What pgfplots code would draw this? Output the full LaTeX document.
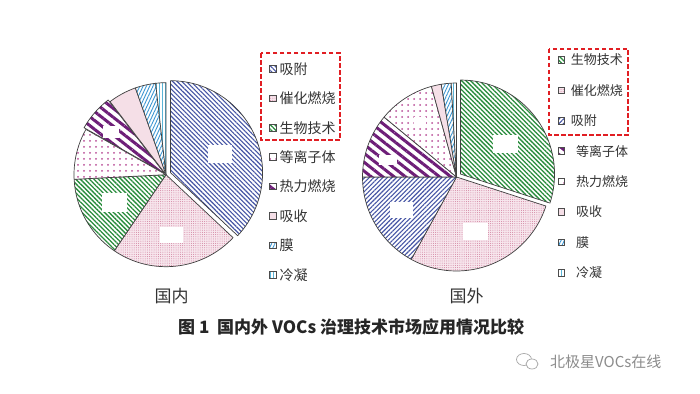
\documentclass[border=0pt]{standalone}
\usepackage{pgfplots}
\pgfplotsset{compat=1.18}
\usepackage{pgfplotstable}
\usepackage{fontspec}
\setmainfont{Noto Sans CJK SC}
\usetikzlibrary{patterns.meta}

\definecolor{adsblue}{RGB}{70,85,165}
\definecolor{biogreen}{RGB}{40,140,60}
\definecolor{thermpurple}{RGB}{110,30,120}
\definecolor{catpink}{RGB}{210,130,160}
\definecolor{catfill}{RGB}{247,230,237}
\definecolor{plasmapink}{RGB}{185,75,150}
\definecolor{absfill}{RGB}{249,232,238}
\definecolor{membblue}{RGB}{60,150,210}
\definecolor{condblue}{RGB}{90,180,215}
\definecolor{boxred}{RGB}{225,30,35}

\tikzset{
 slice/.style={draw=black!75, line width=0.7pt, line join=round},
 adsL/.style={preaction={fill=white}, pattern={Lines[angle=-45,distance=3.2pt,line width=1.1pt]}, pattern color=adsblue},
 adsR/.style={preaction={fill=white}, pattern={Lines[angle=45,distance=3.2pt,line width=1.1pt]}, pattern color=adsblue},
 bio/.style={preaction={fill=white}, pattern={Lines[angle=-45,distance=3.2pt,line width=1.3pt]}, pattern color=biogreen},
 cat/.style={preaction={fill=catfill}, pattern={Dots[distance=2.2pt,radius=0.5pt]}, pattern color=catpink},
 plasma/.style={preaction={fill=white}, pattern={Dots[distance=6pt,radius=1pt]}, pattern color=plasmapink},
 therm/.style={preaction={fill=white}, pattern={Lines[angle=-38,distance=7pt,line width=3pt]}, pattern color=thermpurple},
 absorb/.style={preaction={fill=absfill}, pattern={Dots[distance=2pt,radius=0.4pt]}, pattern color=catpink},
 memb/.style={preaction={fill=white}, pattern={Lines[angle=65,distance=3pt,line width=0.9pt]}, pattern color=membblue},
 cond/.style={preaction={fill=white}, pattern={Lines[angle=90,distance=3pt,line width=0.6pt]}, pattern color=condblue},
 legL/.style={anchor=west, inner sep=0pt, text=black!80, font=\fontsize{14}{16}\selectfont},
 legR/.style={anchor=west, inner sep=0pt, text=black!80, font=\fontsize{13}{15}\selectfont},
 icon/.style={draw=black!70, line width=0.8pt},
 blank/.style={fill=white, draw=none, inner sep=0pt},
}

% name value style explode(px)
\pgfplotstableread{
name value sty ex
吸附 37 adsL 5
催化燃烧 22.5 cat 0
生物技术 14.7 bio 0
等离子体 9 plasma 0
热力燃烧 6.4 therm 2.5
吸收 5 absorb 0
膜 3.6 memb 0
冷凝 1.8 cond 0
}\domestic

\pgfplotstableread{
name value sty ex
生物技术 30 bio 5
催化燃烧 28 cat 0
吸附 17 adsR 0
等离子体 11 therm 0
热力燃烧 9.7 plasma 0
吸收 1.7 absorb 0
膜 1.7 memb 0
冷凝 0.9 cond 0
}\foreign

% #1 table, #2 cx, #3 cy, #4 R
\newcommand\drawpie[4]{%
  \def\curang{90}%
  \pgfplotstablegetrowsof{#1}\pgfmathtruncatemacro\nrows{\pgfplotsretval-1}%
  \pgfplotsforeachungrouped \i in {0,...,\nrows}{%
    \pgfplotstablegetelem{\i}{value}\of{#1}\let\val\pgfplotsretval
    \pgfplotstablegetelem{\i}{sty}\of{#1}\let\sty\pgfplotsretval
    \pgfplotstablegetelem{\i}{ex}\of{#1}\let\ex\pgfplotsretval
    \pgfmathsetmacro\endang{\curang-3.6*\val}%
    \pgfmathsetmacro\midang{(\curang+\endang)/2}%
    \edef\cmd{\noexpand\filldraw[slice,\sty] ([shift={(\midang:\ex pt)}]axis cs:#2,#3) -- ++(\curang:#4pt) arc[start angle=\curang,end angle=\endang,radius=#4pt] -- cycle;}%
    \cmd
    \let\curang\endang
  }%
}
% #1 table, #2 icon x, #3 first y, #4 dy, #5 text x (first three), #6 text x (others), #7 text style
\newcommand\drawlegend[7]{%
  \pgfplotstablegetrowsof{#1}\pgfmathtruncatemacro\nrows{\pgfplotsretval-1}%
  \pgfplotsforeachungrouped \i in {0,...,\nrows}{%
    \pgfplotstablegetelem{\i}{name}\of{#1}\let\nm\pgfplotsretval
    \pgfplotstablegetelem{\i}{sty}\of{#1}\let\sty\pgfplotsretval
    \pgfmathsetmacro\yy{#3-#4*\i}%
    \pgfmathsetmacro\tx{\i<3 ? #5 : #6}%
    \edef\cmd{\noexpand\filldraw[icon,\sty] ([shift={(-3.3pt,-3.3pt)}]axis cs:#2,\yy) rectangle ++(6.6pt,6.6pt);
      \noexpand\node[#7] at (axis cs:\tx,\yy) {\nm};}%
    \cmd
  }%
}

\begin{document}
\begin{tikzpicture}
\fill[white] (0,0) rectangle (700pt,393pt);
\begin{axis}[x=1pt, y=1pt, xmin=0, xmax=700, ymin=0, ymax=393,
  hide axis, clip=false, at={(0pt,0pt)}, anchor=south west]
  \drawpie{\domestic}{166}{218.3}{92}
  \drawpie{\foreign}{456.5}{216}{94}
  % erased data-label patches
  \node[blank, minimum width=24pt, minimum height=18pt] at (axis cs:220,239) {};
  \node[blank, minimum width=25pt, minimum height=19pt] at (axis cs:114.5,190.5) {};
  \node[blank, minimum width=23pt, minimum height=16pt] at (axis cs:171.5,158) {};
  \node[blank, minimum width=16pt, minimum height=12pt] at (axis cs:111,261) {};
  \node[blank, minimum width=25pt, minimum height=18pt] at (axis cs:505.5,249) {};
  \node[blank, minimum width=25pt, minimum height=17pt] at (axis cs:475.5,161.5) {};
  \node[blank, minimum width=23pt, minimum height=16pt] at (axis cs:401.5,183) {};
  \node[blank, minimum width=18pt, minimum height=10pt] at (axis cs:388,233) {};
  \node[blank, minimum width=12pt, minimum height=10pt] at (axis cs:420,271) {};
  % legends
  \drawlegend{\domestic}{273}{324}{29.4}{279.5}{279.5}{legL}
  \drawlegend{\foreign}{561.5}{333}{30.4}{570.7}{576}{legR}
  \draw[boxred, line width=1.6pt, dash pattern=on 4.5pt off 2.5pt] (axis cs:261,339.7) rectangle (axis cs:340,253);
  \draw[boxred, line width=1.6pt, dash pattern=on 4.5pt off 2.5pt] (axis cs:549,344) rectangle (axis cs:628,258);
  % pie titles
  \node[font=\fontsize{17}{19}\selectfont, text=black!80] at (axis cs:171.5,96.5) {国内};
  \node[font=\fontsize{17}{19}\selectfont, text=black!80] at (axis cs:466.5,96.5) {国外};
  % caption
  \node[anchor=west, inner sep=0pt, font=\fontsize{17}{19}\selectfont\bfseries, text=black!85] at (axis cs:178,66) {图 1\ \ 国内外 VOCs 治理技术市场应用情况比较};
  % watermark
  \draw[black!35, line width=0.7pt, fill=white] (axis cs:524,33.5) ellipse [x radius=7.5pt, y radius=6pt];
  \draw[black!35, line width=0.7pt, fill=white] (axis cs:532,29) ellipse [x radius=6pt, y radius=5pt];
  \node[anchor=west, inner sep=0pt, font=\fontsize{15}{17}\selectfont, text=black!45] at (axis cs:550,31.3) {北极星VOCs在线};
\end{axis}
\end{tikzpicture}
\end{document}
